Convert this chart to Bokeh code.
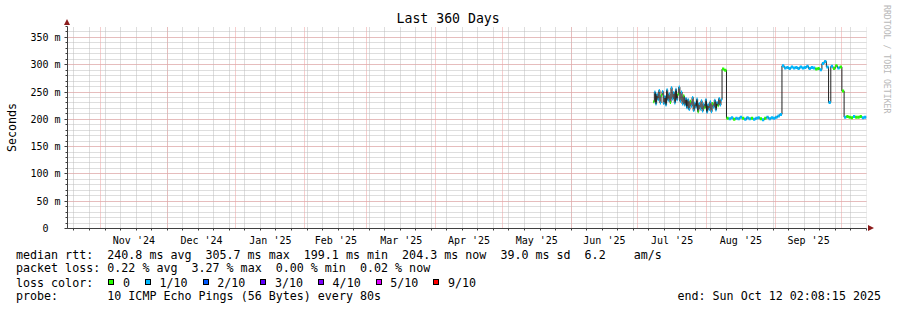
import html
import pandas as pd
from bokeh.plotting import figure
from bokeh.layouts import column
from bokeh.models import (Range1d, FixedTicker, DatetimeTickFormatter,
                          ColumnDataSource, Div)
from bokeh.embed import file_html
from bokeh.resources import INLINE

FONT = "DejaVu Sans Mono"

# ---------------- data ----------------
GRAPH_END = "2025-10-12 02:08:15"
SPAN_DAYS = 360

# 12-hourly median RTT (ms), 2025-07-08 00:00 .. 2025-08-07 12:00
JUL_START = "2025-07-08"
median_rtt_jul = [
    232, 250, 228, 246, 236, 253, 230, 244, 251, 229,
    242, 226, 254, 235, 247, 231, 258, 237, 249, 230,
    255, 236, 246, 259, 233, 250, 228, 243, 226, 238,
    221, 236, 218, 233, 224, 240, 216, 230, 222, 237,
    214, 229, 219, 234, 215, 228, 221, 236, 213, 227,
    218, 232, 214, 229, 222, 235, 217, 231, 225, 238,
    226, 236,
]
loss_class_jul = [
    0, 1, 1, 1, 1, 1, 1, 0, 1, 1,
    1, 1, 1, 1, 1, 0, 1, 1, 1, 1,
    1, 1, 0, 1, 1, 1, 1, 0, 1, 1,
    1, 1, 1, 0, 1, 1, 1, 1, 1, 1,
    0, 1, 1, 1, 1, 1, 0, 1, 1, 1,
    1, 1, 1, 0, 1, 1, 1, 1, 0, 1,
    1, 1,
]

# daily median RTT (ms), 2025-08-08 .. 2025-10-12
AUG_START = "2025-08-08"
median_rtt_aug = [
    292, 290,
    202, 201, 203, 200, 202, 201, 204, 202, 200, 203,
    201, 202, 200, 202, 203, 201, 199, 202, 204, 201,
    203, 202, 204, 206, 209,
    298, 294, 295, 293, 296, 294, 295, 293, 296, 294,
    295, 297, 293, 295, 294, 292, 293, 291, 302, 306,
    296, 231, 297, 293, 298, 294, 296, 252,
    204, 205, 204, 203, 205, 204, 204, 205, 203, 204, 204,
]
loss_class_aug = [
    0, 0,
    0, 1, 1, 0, 1, 1, 1, 0, 1, 1,
    1, 0, 1, 1, 1, 0, 1, 0, 1, 1,
    1, 1, 1, 1, 1,
    1, 1, 1, 1, 1, 1, 1, 1, 1, 1,
    1, 1, 1, 1, 1, 0, 0, 1, 1, 1,
    1, 1, 1, 0, 0, 1, 0, 0,
    1, 0, 0, 0, 1, 0, 0, 0, 1, 1, 1,
]

loss_labels = ["0", "1/10", "2/10", "3/10", "4/10", "5/10", "9/10"]
loss_colors = ["#26ff00", "#00b8ff", "#0059ff", "#5e00ff", "#7e00ff", "#dd00ff", "#ff0000"]

y_ticks = [0, 50, 100, 150, 200, 250, 300, 350]
y_tick_labels = ["0\u00a0\u00a0", "50 m", "100 m", "150 m", "200 m", "250 m", "300 m", "350 m"]
y_max = 370
y_minor_step = 10

title_text = "Last 360 Days"
y_label = "Seconds"
credit_text = "RRDTOOL / TOBI OETIKER"

rtt_row = ["median rtt:", "240.8 ms avg", "305.7 ms max", "199.1 ms min",
           "204.3 ms now", "39.0 ms sd", "6.2", "am/s"]
loss_row = ["packet loss:", "0.22 % avg", "3.27 % max", "0.00 % min", "0.02 % now"]
color_row_label = "loss color:"
probe_row = ["probe:", "10 ICMP Echo Pings (56 Bytes) every 80s"]
end_text = "end: Sun Oct 12 02:08:15 2025"

# ---------------- derived ----------------
end_ts = pd.Timestamp(GRAPH_END)
start_ts = end_ts - pd.Timedelta(days=SPAN_DAYS)
t_jul = pd.date_range(JUL_START, periods=len(median_rtt_jul), freq="12h")
t_aug = pd.date_range(AUG_START, periods=len(median_rtt_aug), freq="D")
times = list(t_jul) + list(t_aug)
medians = median_rtt_jul + median_rtt_aug
classes = loss_class_jul + loss_class_aug
nxt = times[1:] + [end_ts]

month_starts = pd.date_range("2024-11-01", "2025-10-01", freq="MS")
month_mids = month_starts[:-1] + (month_starts[1:] - month_starts[:-1]) / 2
week_starts = pd.date_range("2024-10-20", end_ts, freq="7D")


def ms(ts):
    return pd.Timestamp(ts).value / 1e6


month_ms = [ms(t) for t in month_starts]
label_ms = [ms(t) for t in month_mids]
week_ms = [ms(t) for t in week_starts]

# ---------------- style ----------------
W, H1, H2 = 897, 248, 62
L, R, T, B = 67, 31, 26, 20
MAJOR = "#ee9c9c"
MINOR = "#bdbdbd"
AXIS = "#404040"
ARROW = "#8c1c1c"

p = figure(width=W, height=H1, x_axis_type="datetime",
           x_range=Range1d(ms(start_ts), ms(end_ts)), y_range=Range1d(0, y_max),
           output_backend="svg", toolbar_location=None,
           min_border_left=L, min_border_right=R, min_border_top=T, min_border_bottom=B)
p.outline_line_color = None
p.background_fill_color = "white"
p.border_fill_color = "white"

# title
p.title.text = title_text
p.title.align = "left"
p.title.offset = 396 - L
p.title.text_font = FONT
p.title.text_font_size = "13.2px"
p.title.text_font_style = "normal"
p.title.text_color = "black"
p.title.standoff = 1

# x axis
xax = p.xaxis[0]
xax.ticker = FixedTicker(ticks=label_ms, minor_ticks=week_ms)
fmt = "%b '%y"
xax.formatter = DatetimeTickFormatter(microseconds=fmt, milliseconds=fmt, seconds=fmt,
                                      minsec=fmt, minutes=fmt, hourmin=fmt, hours=fmt,
                                      days=fmt, months=fmt, years=fmt)
xax.major_tick_out = 0
xax.major_tick_in = 0
xax.minor_tick_out = 2
xax.minor_tick_in = 0
xax.major_label_standoff = 4
xax.major_label_text_font = FONT
xax.major_label_text_font_size = "10px"
xax.major_label_text_color = "black"
xax.axis_line_color = AXIS
xax.minor_tick_line_color = AXIS

# y axis
yax = p.yaxis[0]
yticker = FixedTicker(ticks=y_ticks, minor_ticks=list(range(0, y_max + 1, y_minor_step)))
yax.ticker = yticker
yax.major_label_overrides = {t: s for t, s in zip(y_ticks, y_tick_labels)}
yax.major_tick_out = 3
yax.major_tick_in = 0
yax.minor_tick_out = 2
yax.minor_tick_in = 0
yax.major_label_standoff = 4
yax.major_label_text_font = FONT
yax.major_label_text_font_size = "10px"
yax.major_label_text_color = "black"
yax.axis_line_color = AXIS
yax.major_tick_line_color = AXIS
yax.minor_tick_line_color = AXIS
yax.axis_label = y_label
yax.axis_label_text_font = FONT
yax.axis_label_text_font_size = "11.66px"
yax.axis_label_text_font_style = "normal"
yax.axis_label_text_color = "black"
yax.axis_label_standoff = 8

# grids
p.xgrid.ticker = FixedTicker(ticks=month_ms, minor_ticks=week_ms)
p.ygrid.ticker = yticker
for g in (p.xgrid, p.ygrid):
    g.grid_line_color = MAJOR
    g.grid_line_dash = "1 1"
    g.grid_line_width = 1
    g.minor_grid_line_color = MINOR
    g.minor_grid_line_dash = "1 1"
    g.minor_grid_line_width = 1

# data: dark median step line, loss-coloured band on top
src = ColumnDataSource(dict(x0=[ms(d) for d in times], x1=[ms(d) for d in nxt],
                            y=medians, color=[loss_colors[c] for c in classes]))
step_x = [ms(d) for d in times] + [ms(end_ts)]
step_y = list(medians) + [medians[-1]]
p.step(x=step_x, y=step_y, mode="after", line_color="#202020", line_width=1)
p.segment(x0="x0", y0="y", x1="x1", y1="y", line_color="color", line_width=3,
          source=src)

# ---------------- legend block (HTML text below the chart) ----------------
X0, CW = 16, 7.02
row_y = [255, 268.3, 282.5, 296]
rtt_cols = [0, 13, 27, 41, 55, 69, 81, 88]
loss_cols = [0, 13, 25, 37, 49]
probe_cols = [0, 13]
LH = 14


def span_left(x, yc, s):
    return ('<span style="position:absolute;left:%.1fpx;top:%.1fpx;line-height:%dpx;'
            'white-space:pre">%s</span>' % (x, yc - H1 - LH / 2, LH, html.escape(s)))


def span_right(x, yc, s):
    return ('<span style="position:absolute;right:%.1fpx;top:%.1fpx;line-height:%dpx;'
            'white-space:pre">%s</span>' % (W - x, yc - H1 - LH / 2, LH, html.escape(s)))


parts = []
for s, c in zip(rtt_row, rtt_cols):
    parts.append(span_left(X0 + c * CW, row_y[0], s))
for s, c in zip(loss_row, loss_cols):
    parts.append(span_left(X0 + c * CW, row_y[1], s))
parts.append(span_left(X0, row_y[2], color_row_label))
for s, c in zip(probe_row, probe_cols):
    parts.append(span_left(X0 + c * CW, row_y[3], s))
parts.append(span_right(881, row_y[3], end_text))

x = 108.3
for lab, col in zip(loss_labels, loss_colors):
    parts.append('<span style="position:absolute;left:%.1fpx;top:%.1fpx;width:6px;height:6px;'
                 'border:1px solid #000;background:%s"></span>'
                 % (x, row_y[2] - H1 - 4, col))
    parts.append(span_left(x + 14.6, row_y[2], lab))
    x = x + 14.6 + len(lab) * CW + 15.0

# credit text and axis arrow heads, overlaid on the chart canvas above
parts.append('<span style="position:absolute;left:882px;top:%dpx;writing-mode:vertical-rl;'
             'font-size:8.2px;line-height:10px;color:#b8b8b8;white-space:pre">%s</span>'
             % (5 - H1, html.escape(credit_text)))
parts.append('<span style="position:absolute;left:64px;top:%dpx;width:0;height:0;'
             'border-left:3px solid transparent;border-right:3px solid transparent;'
             'border-bottom:6px solid %s"></span>' % (19 - H1, ARROW))
parts.append('<span style="position:absolute;left:868px;top:%dpx;width:0;height:0;'
             'border-top:3px solid transparent;border-bottom:3px solid transparent;'
             'border-left:6px solid %s"></span>' % (225 - H1, ARROW))

legend_html = ('<div style="position:relative;left:-5px;top:-5px;width:%dpx;height:%dpx;'
               'margin:0;padding:0;font-family:\'DejaVu Sans Mono\';font-size:11.66px;'
               'color:#000">%s</div>' % (W, H2, "".join(parts)))
legend = Div(text=legend_html, width=W, height=H2, styles={"overflow": "visible"})

layout = column(p, legend, spacing=0)
open("out.html", "w").write(file_html(layout, INLINE))
